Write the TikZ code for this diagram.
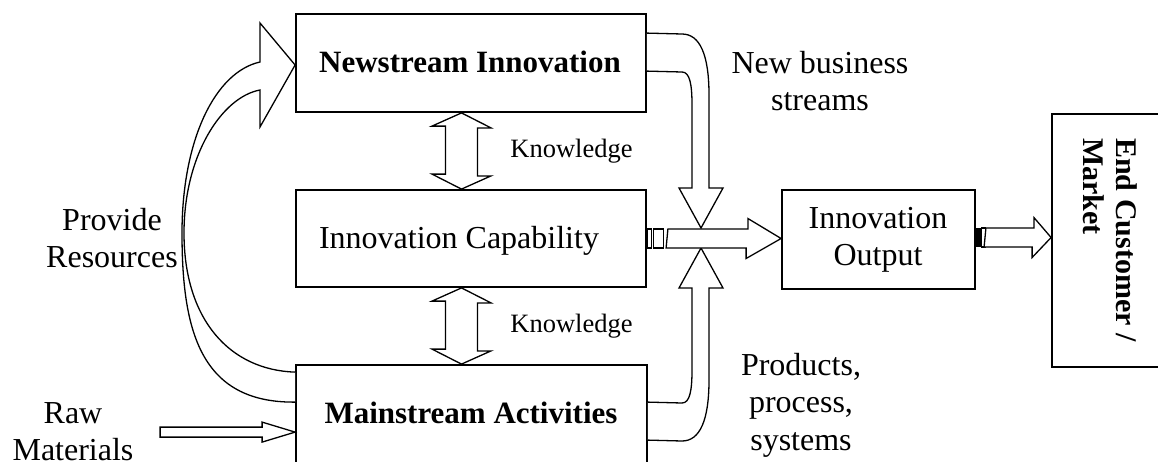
\documentclass[tikz,border=0pt]{standalone}
\usepackage{fontspec}
\setmainfont{Liberation Serif}
\usetikzlibrary{calc}
\begin{document}
\begin{tikzpicture}[x=1pt,y=-1pt,
  box/.style={draw, line width=1.8pt, inner sep=0pt},
  barrow/.style={draw, line width=1.3pt, fill=white, line join=miter},
  bt/.style={font=\fontsize{32}{37.5}\selectfont, inner sep=0pt, anchor=base},
  bbt/.style={font=\fontsize{31}{37.5}\selectfont\bfseries, inner sep=0pt, anchor=base},
  kt/.style={font=\fontsize{26.5}{30}\selectfont, inner sep=0pt, anchor=base},
  et/.style={font=\fontsize{30}{33}\selectfont\bfseries, inner sep=0pt, rotate=-90, anchor=base west}]
\useasboundingbox (0,0) rectangle (1158,461);
\clip (0,0) rectangle (1158,461);

% boxes
\node[box, minimum width=350pt, minimum height=98pt] (ns) at (471,63) {};
\node[box, minimum width=350pt, minimum height=97pt] (cap) at (471,238.5) {};
\node[box, minimum width=351pt, minimum height=120pt] (ms) at (471.5,425) {};
\node[box, minimum width=193pt, minimum height=99pt] (out) at (878.5,239.5) {};
\node[box, minimum width=120pt, minimum height=253pt] (end) at (1112,240.5) {};

% box texts
\node[bbt] (tns) at (470,72) {Newstream Innovation};
\node[bt] (tcap) at (459,248) {Innovation Capability};
\node[bbt] (tms) at (471,423) {Mainstream Activities};
\node[bt] (tout) at (878,228) {\begin{tabular}[t]{@{}c@{}}Innovation\\Output\end{tabular}};
\node[et] (tend) at (1116,138) {\begin{tabular}[t]{@{}l@{}}End Customer /\\Market\end{tabular}};

% free labels
\node[kt] (k1) at (571.5,157) {Knowledge};
\node[kt] (k2) at (571.5,332) {Knowledge};
\node[bt] (prov) at (112,230) {\begin{tabular}[t]{@{}c@{}}Provide\\Resources\end{tabular}};
\node[bt] (raw) at (73,423) {\begin{tabular}[t]{@{}c@{}}Raw\\Materials\end{tabular}};
\node[bt] (nbs) at (820,73) {\begin{tabular}[t]{@{}c@{}}New business\\streams\end{tabular}};
\node[bt] (pps) at (801,375) {\begin{tabular}[t]{@{}c@{}}Products,\\process,\\systems\end{tabular}};

% knowledge double arrows
\draw[barrow] ($(ns.south)+(-9.5,0)$) -- ++(29.5,15) -- ++(-13.5,0) -- ++(0,48) -- ++(13.5,0)
  -- ($(cap.north)+(-9.5,0)$) -- ++(-29.5,-15) -- ++(13.5,0) -- ++(0,-48) -- ++(-13.5,0) -- cycle;
\draw[barrow] ($(cap.south)+(-9.5,0)$) -- ++(29.5,15) -- ++(-13.5,0) -- ++(0,48) -- ++(13.5,0)
  -- ($(ms.north)+(-10,0)$) -- ++(-29.5,-15) -- ++(13.5,0) -- ++(0,-48) -- ++(-13.5,0) -- cycle;

% raw materials arrow
\coordinate (rawtip) at ($(ms.north west)+(0,68)$);
\draw[barrow] (rawtip) -- ++(-33,-10) -- ++(0,5) -- ++(-102,0) -- ++(0,10) -- ++(102,0) -- ++(0,5) -- cycle;

% provide resources arrow
\draw[barrow] ($(ms.north west)+(0,38)$) .. controls (200,403) and (182,330) .. (182,233)
  .. controls (182,140) and (215,72) .. (260,62) -- (260,23) -- ($(ns.west)+(0,2)$) -- (260,127) -- (260,90)
  .. controls (222,97) and (184,155) .. (184,233) .. controls (184,320) and (230,370) .. ($(ms.north west)+(0,8)$);

% new business streams arrow
\draw[barrow] ($(ns.north east)+(0,20)$) -- (682,34) .. controls (700,34) and (709,55) .. (709,95)
  -- (709,188) -- (723,188) -- (701,228) -- (679,188) -- (692,188) -- (692,105)
  .. controls (692,85) and (690,72) .. (682,72) -- ($(ns.north east)+(0,58)$);

% products arrow
\draw[barrow] ($(ms.north east)+(0,38)$) -- (682,403) .. controls (690,403) and (692,390) .. (692,370)
  -- (692,288) -- (679,288) -- (701,248) -- (723,288) -- (709,288) -- (709,380)
  .. controls (709,420) and (700,441) .. (682,441) -- ($(ms.north east)+(0,76)$);

% capability -> output
\draw[barrow, line width=1.1pt] ($(cap.east)+(1,-9.5)$) rectangle ++(4,19);
\draw[barrow, line width=1.1pt] ($(cap.east)+(7,-9.5)$) rectangle ++(10,19);
\draw[barrow] ($(cap.east)+(21,-9.5)$) -- ++(80,0) -- ++(0,-10.5) -- (out.west |- cap.east)
  -- ++(-35,20) -- ++(0,-10.5) -- ++(-80,0) -- cycle;

% output -> end customer
\fill ($(out.east)+(0,-11.5)$) rectangle ++(6,19);
\draw[barrow, line width=1.1pt] ($(out.east)+(6,-11.5)$) rectangle ++(4,19);
\draw[barrow] ($(out.east)+(10,-11.5)$) -- ++(48,0) -- ++(0,-10.5) -- ($(end.west)+(0,-3)$)
  -- ++(-19,20) -- ++(0,-10.5) -- ++(-48,0) -- cycle;
\end{tikzpicture}
\end{document}
